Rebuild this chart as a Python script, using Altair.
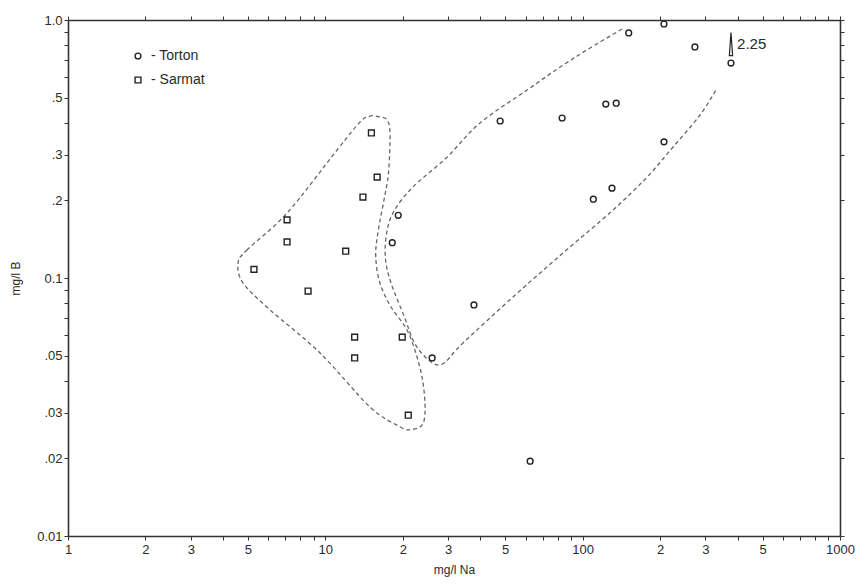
import altair as alt
import pandas as pd

# ---- data ----
torton_x = [19.2, 18.2, 26.0, 37.8, 47.8, 83.2, 123, 135, 207, 110, 130, 151, 207, 273, 377, 62.5]
torton_y = [0.175, 0.137, 0.049, 0.0786, 0.406, 0.417, 0.472, 0.476, 0.337, 0.202, 0.223, 0.891, 0.965, 0.786, 0.681, 0.0195]

sarmat_x = [5.28, 7.1, 7.1, 8.57, 12.0, 13.0, 13.0, 14.0, 15.1, 15.9, 19.9, 21.0]
sarmat_y = [0.108, 0.168, 0.138, 0.089, 0.127, 0.059, 0.049, 0.206, 0.365, 0.246, 0.059, 0.0294]

# envelope outlines (hand-drawn dashed curves)
sarmat_env_x = [4.58, 4.96, 7.10, 11.11, 13.64, 14.92, 16.32, 17.37, 17.84, 17.6, 16.9, 16.0,
                15.7, 16.3, 18.0, 20.77, 22.72, 23.97, 24.41, 23.75, 21.34, 19.51, 14.92, 9.54, 6.10, 4.79]
sarmat_env_y = [0.1143, 0.1284, 0.1786, 0.3134, 0.4024, 0.4245, 0.4207, 0.4098, 0.3648, 0.2553, 0.2006, 0.1494,
                0.1206, 0.0956, 0.0772, 0.0629, 0.0494, 0.0392, 0.0308, 0.0269, 0.0258, 0.0265, 0.0316, 0.0512, 0.0752, 0.0956]

torton_env_x = [142.3, 106.9, 81.7, 60.8, 39.9, 29.7, 21.9, 18.6, 17.4, 17.1, 18.0, 20.3, 22.2, 25.2,
                28.5, 34.29, 53.6, 83.9, 131.3, 177.9, 224.5, 285.9, 333.0]
torton_env_y = [0.923, 0.779, 0.657, 0.535, 0.399, 0.294, 0.2253, 0.1835, 0.1535, 0.1206, 0.0956, 0.0706, 0.0560,
                0.0481, 0.0464, 0.0560, 0.0844, 0.1250, 0.1835, 0.2462, 0.3219, 0.4283, 0.545]

annot_x = [377]
annot_y = [0.807]
annot_text = ["2.25"]
annot_text_x = [398]

x_label_values = [1, 2, 3, 5, 10, 20, 30, 50, 100, 200, 300, 500, 1000]
x_label_text = ["1", "2", "3", "5", "10", "2", "3", "5", "100", "2", "3", "5", "1000"]
y_label_values = [0.01, 0.02, 0.03, 0.05, 0.1, 0.2, 0.3, 0.5, 1.0]
y_label_text = ["0.01", ".02", ".03", ".05", "0.1", ".2", ".3", ".5", "1.0"]

# ---- tables ----
pts = pd.DataFrame({
    "x": torton_x + sarmat_x,
    "y": torton_y + sarmat_y,
    "series": ["Torton"] * len(torton_x) + ["Sarmat"] * len(sarmat_x),
})
env_s = pd.DataFrame({"x": sarmat_env_x, "y": sarmat_env_y, "i": list(range(len(sarmat_env_x)))})
env_t = pd.DataFrame({"x": torton_env_x, "y": torton_env_y, "i": list(range(len(torton_env_x)))})
annot = pd.DataFrame({"x": annot_x, "y": annot_y})
annot_lbl = pd.DataFrame({"x": annot_text_x, "y": annot_y, "t": annot_text})

x_ticks = sorted(set([round(k * 10 ** e, 4) for e in range(0, 3) for k in range(1, 10)] + [1000]))
y_ticks = sorted(set([round(k * 10 ** e, 4) for e in (-2, -1) for k in range(1, 10)] + [1.0]))


def label_expr(values, texts):
    expr = "''"
    for v, t in reversed(list(zip(values, texts))):
        expr = f"datum.value == {v} ? '{t}' : ({expr})"
    return expr


xscale = alt.Scale(type="log", domain=[1, 1000], nice=False)
yscale = alt.Scale(type="log", domain=[0.01, 1.0], nice=False)

FONT = "Liberation Sans"
INK = "#2a2a2a"

x_axis = alt.Axis(values=x_ticks, labelExpr=label_expr(x_label_values, x_label_text), title="mg/l Na",
                  tickSize=4, labelPadding=3, labelFontSize=13, titleFontSize=12, titlePadding=8,
                  grid=False, labelFont=FONT, titleFont=FONT, titleFontWeight="normal",
                  labelColor=INK, titleColor=INK, domainColor="#333", tickColor="#333",
                  domainWidth=1.6, labelFlush=False, labelOverlap=False)
y_axis = alt.Axis(values=y_ticks, labelExpr=label_expr(y_label_values, y_label_text), title="mg/l B",
                  tickSize=4, labelPadding=2, labelFontSize=13, titleFontSize=12, titlePadding=14,
                  grid=False, labelFont=FONT, titleFont=FONT, titleFontWeight="normal",
                  labelColor=INK, titleColor=INK, domainColor="#333", tickColor="#333",
                  domainWidth=1.6, labelFlush=False, labelOverlap=False)
x_top = alt.Axis(orient="top", values=x_ticks, labels=False, title=None, tickSize=4, grid=False,
                 domainColor="#333", tickColor="#333", domainWidth=1.6)
y_right = alt.Axis(orient="right", values=y_ticks, labels=False, title=None, tickSize=4, grid=False,
                   domainColor="#333", tickColor="#333", domainWidth=1.6)

env_style = dict(strokeDash=[4, 3], strokeWidth=1.3, color="#666")

sarmat_env = alt.Chart(env_s).mark_line(interpolate="cardinal-closed", **env_style).encode(
    x=alt.X("x:Q", scale=xscale, axis=None),
    y=alt.Y("y:Q", scale=yscale, axis=None),
    order="i:Q",
)
torton_env = alt.Chart(env_t).mark_line(interpolate="cardinal", **env_style).encode(
    x=alt.X("x:Q", scale=xscale, axis=None),
    y=alt.Y("y:Q", scale=yscale, axis=None),
    order="i:Q",
)

points = alt.Chart(pts).mark_point(filled=False, color="#222", strokeWidth=1.4, size=34, opacity=1).encode(
    x=alt.X("x:Q", scale=xscale, axis=x_axis),
    y=alt.Y("y:Q", scale=yscale, axis=y_axis),
    shape=alt.Shape("series:N",
                    scale=alt.Scale(domain=["Torton", "Sarmat"], range=["circle", "square"]),
                    legend=alt.Legend(title=None, orient="none", legendX=63, legendY=29,
                                      labelFontSize=14, labelFont=FONT, labelColor=INK,
                                      symbolSize=34, symbolStrokeWidth=1.4, symbolStrokeColor="#222",
                                      symbolFillColor="transparent", rowPadding=10, labelOffset=6,
                                      labelExpr="'- ' + datum.label")),
)

frame = alt.Chart(pts).mark_point(opacity=0).encode(
    x=alt.X("x:Q", scale=xscale, axis=x_top),
    y=alt.Y("y:Q", scale=yscale, axis=y_right),
)

arrow = alt.Chart(annot).mark_point(shape="M0,-1L0.14,1L-0.14,1Z", filled=False, color="#222",
                                    strokeWidth=1.2, size=530, opacity=1).encode(
    x=alt.X("x:Q", scale=xscale, axis=None),
    y=alt.Y("y:Q", scale=yscale, axis=None),
)
arrow_text = alt.Chart(annot_lbl).mark_text(align="left", baseline="middle", fontSize=15, font=FONT,
                                            color=INK, dx=0).encode(
    x=alt.X("x:Q", scale=xscale, axis=None),
    y=alt.Y("y:Q", scale=yscale, axis=None),
    text="t:N",
)

chart = alt.layer(sarmat_env, torton_env, points, frame, arrow, arrow_text).resolve_axis(
    x="independent", y="independent"
).properties(
    width=772, height=516,
    autosize=alt.AutoSizeParams(type="none"),
    padding={"left": 60, "top": 12, "right": 16, "bottom": 42},
    background="white",
).configure_view(stroke=None)

chart.save("out.html", embed_options={"renderer": "svg", "actions": False})
